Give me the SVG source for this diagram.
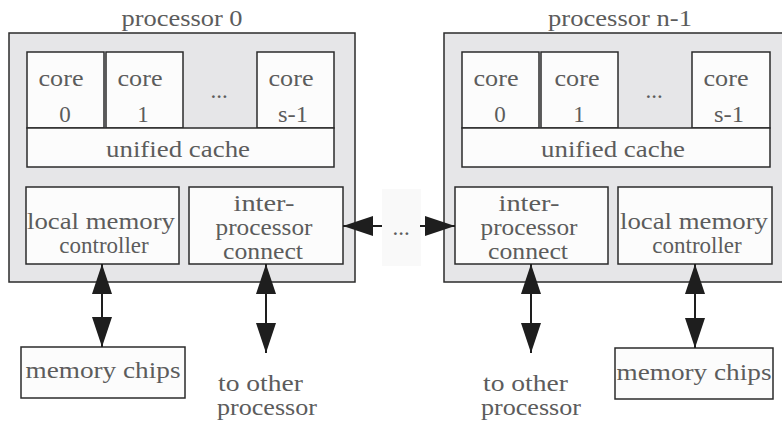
<svg xmlns="http://www.w3.org/2000/svg" width="782" height="425" viewBox="0 0 782 425">
  <style>
    .chip { fill: #e6e6e8; stroke: #2b2b2b; stroke-width: 1.5; }
    .unit { fill: #fcfcfc; stroke: #2b2b2b; stroke-width: 1.5; }
    .label { font-family: "Liberation Serif", "Times New Roman", "DejaVu Serif", serif; font-size: 23px; fill: #5c5c5c; text-anchor: middle; }
    .left { text-anchor: start; }
    .link { stroke: #1e1e1e; stroke-width: 2; fill: none; }
  </style>
  <defs>
    <marker id="head" markerUnits="userSpaceOnUse" markerWidth="30" markerHeight="20" refX="30" refY="10" orient="auto-start-reverse">
      <path d="M0,0 L30,10 L0,20 z" fill="#1e1e1e"/>
    </marker>
  </defs>

  <rect width="782" height="425" fill="#ffffff"/>

  <!-- processor 0 -->
  <g id="processor0">
    <text class="label" x="182" y="26" textLength="121" lengthAdjust="spacingAndGlyphs">processor 0</text>
    <rect class="chip" x="9" y="33" width="346" height="249"/>
  </g>
  <g id="p0-core0">
    <rect class="unit" x="27" y="52" width="77" height="76"/>
    <text class="label" x="61" y="86" textLength="45" lengthAdjust="spacingAndGlyphs">core</text>
    <text class="label" x="65" y="122">0</text>
  </g>
  <g id="p0-core1">
    <rect class="unit" x="106" y="52" width="77" height="76"/>
    <text class="label" x="140" y="86" textLength="45" lengthAdjust="spacingAndGlyphs">core</text>
    <text class="label" x="143" y="122">1</text>
  </g>
  <g id="p0-dots">
    <text class="label" x="219" y="98">...</text>
  </g>
  <g id="p0-cores">
    <rect class="unit" x="257" y="52" width="77" height="76"/>
    <text class="label" x="291" y="86" textLength="45" lengthAdjust="spacingAndGlyphs">core</text>
    <text class="label" x="293" y="122" textLength="30" lengthAdjust="spacingAndGlyphs">s-1</text>
  </g>
  <g id="p0-cache">
    <rect class="unit" x="27" y="128" width="307" height="39"/>
    <text class="label" x="178" y="157" textLength="144" lengthAdjust="spacingAndGlyphs">unified cache</text>
  </g>
  <g id="p0-lmc">
    <rect class="unit" x="26" y="187" width="153" height="77"/>
    <text class="label" x="101" y="229" textLength="148" lengthAdjust="spacingAndGlyphs">local memory</text>
    <text class="label" x="104" y="253">controller</text>
  </g>
  <g id="p0-ipc">
    <rect class="unit" x="189" y="187" width="154" height="77"/>
    <text class="label" x="264" y="211" textLength="61" lengthAdjust="spacingAndGlyphs">inter-</text>
    <text class="label" x="264" y="235" textLength="97" lengthAdjust="spacingAndGlyphs">processor</text>
    <text class="label" x="263" y="259" textLength="80" lengthAdjust="spacingAndGlyphs">connect</text>
  </g>
  <g id="p0-mem">
    <rect class="unit" x="21" y="347" width="164" height="51"/>
    <text class="label" x="103" y="378" textLength="155" lengthAdjust="spacingAndGlyphs">memory chips</text>
  </g>
  <g id="p0-other">
    <text class="label left" x="218" y="391" textLength="85" lengthAdjust="spacingAndGlyphs">to other</text>
    <text class="label left" x="217" y="415" textLength="100" lengthAdjust="spacingAndGlyphs">processor</text>
  </g>

  <!-- gap between processors -->
  <g id="gap">
    <rect x="382" y="189" width="39" height="77" fill="#f9f9f9"/>
    <text class="label" x="401" y="235">...</text>
  </g>

  <!-- processor n-1 -->
  <g id="processorN">
    <text class="label" x="620" y="26" textLength="144" lengthAdjust="spacingAndGlyphs">processor n-1</text>
    <rect class="chip" x="444" y="33" width="346" height="249"/>
  </g>
  <g id="pn-core0">
    <rect class="unit" x="462" y="52" width="77" height="76"/>
    <text class="label" x="496" y="86" textLength="45" lengthAdjust="spacingAndGlyphs">core</text>
    <text class="label" x="500" y="122">0</text>
  </g>
  <g id="pn-core1">
    <rect class="unit" x="541" y="52" width="77" height="76"/>
    <text class="label" x="577" y="86" textLength="45" lengthAdjust="spacingAndGlyphs">core</text>
    <text class="label" x="579" y="122">1</text>
  </g>
  <g id="pn-dots">
    <text class="label" x="654" y="98">...</text>
  </g>
  <g id="pn-cores">
    <rect class="unit" x="692" y="52" width="78" height="76"/>
    <text class="label" x="726" y="86" textLength="45" lengthAdjust="spacingAndGlyphs">core</text>
    <text class="label" x="729" y="122" textLength="30" lengthAdjust="spacingAndGlyphs">s-1</text>
  </g>
  <g id="pn-cache">
    <rect class="unit" x="462" y="128" width="308" height="39"/>
    <text class="label" x="613" y="157" textLength="144" lengthAdjust="spacingAndGlyphs">unified cache</text>
  </g>
  <g id="pn-ipc">
    <rect class="unit" x="455" y="187" width="153" height="77"/>
    <text class="label" x="529" y="211" textLength="61" lengthAdjust="spacingAndGlyphs">inter-</text>
    <text class="label" x="529" y="235" textLength="97" lengthAdjust="spacingAndGlyphs">processor</text>
    <text class="label" x="528" y="259" textLength="80" lengthAdjust="spacingAndGlyphs">connect</text>
  </g>
  <g id="pn-lmc">
    <rect class="unit" x="618" y="187" width="154" height="77"/>
    <text class="label" x="694" y="229" textLength="148" lengthAdjust="spacingAndGlyphs">local memory</text>
    <text class="label" x="697" y="253">controller</text>
  </g>
  <g id="pn-mem">
    <rect class="unit" x="615" y="348" width="158" height="51"/>
    <text class="label" x="694" y="380" textLength="155" lengthAdjust="spacingAndGlyphs">memory chips</text>
  </g>
  <g id="pn-other">
    <text class="label left" x="483" y="391" textLength="85" lengthAdjust="spacingAndGlyphs">to other</text>
    <text class="label left" x="481" y="415" textLength="100" lengthAdjust="spacingAndGlyphs">processor</text>
  </g>

  <!-- connectors -->
  <g id="connectors">
    <line class="link" x1="102" y1="264" x2="102" y2="347" marker-start="url(#head)" marker-end="url(#head)"/>
    <line class="link" x1="266" y1="264" x2="266" y2="353" marker-start="url(#head)" marker-end="url(#head)"/>
    <line class="link" x1="343" y1="226" x2="382" y2="226" marker-start="url(#head)"/>
    <line class="link" x1="420" y1="226" x2="455" y2="226" marker-end="url(#head)"/>
    <line class="link" x1="531" y1="264" x2="531" y2="353" marker-start="url(#head)" marker-end="url(#head)"/>
    <line class="link" x1="695" y1="264" x2="695" y2="348" marker-start="url(#head)" marker-end="url(#head)"/>
  </g>
</svg>
